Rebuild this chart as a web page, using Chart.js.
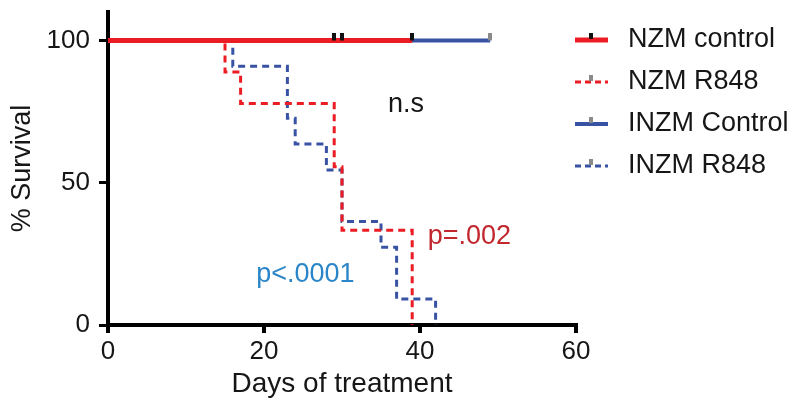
<!DOCTYPE html>
<html>
<head>
<meta charset="utf-8">
<script src="https://cdn.jsdelivr.net/npm/chart.js@4.4.1/dist/chart.umd.min.js"></script>
<style>
    html, body { margin: 0; padding: 0; background: #fff; }
    #wrap { width: 800px; height: 415px; position: relative; }
</style>
</head>
<body>
<div id="wrap"><canvas id="chart"></canvas></div>
<script>
// --- data ---
const xTicks = [0, 20, 40, 60];
const yTicks = [0, 50, 100];

const nzmControlDays = [0, 39];
const nzmControlSurvival = [100, 100];
const nzmControlCensored = [29, 30, 39];

const inzmControlDays = [0, 49];
const inzmControlSurvival = [100, 100];
const inzmControlCensored = [49];

const nzmR848Days = [0, 15, 17, 29, 30, 39];
const nzmR848Survival = [100, 88.9, 77.8, 55.6, 33.3, 0];

const inzmR848Days = [0, 16, 23, 24, 28, 30, 35, 37, 42];
const inzmR848Survival = [100, 90.9, 72.7, 63.6, 54.5, 36.4, 27.3, 9.1, 0];

const seriesLabels = ['NZM control', 'NZM R848', 'INZM Control', 'INZM R848'];

const noteTexts = ['n.s', 'p=.002', 'p<.0001'];
const noteDays = [38.2, 41, 19];
const notePct = [77.5, 31.2, 17.9];

// --- styling ---
const FONT = "'Liberation Sans', Arial, Helvetica, sans-serif";
const TEXT = '#161616';
const RED = '#ec1c24';
const BLUE = '#3953a4';
const MARK_DARK = '#111111';
const MARK_GREY = '#8a8a8a';
const NOTE_STYLE = [
    { color: TEXT, align: 'center' },
    { color: '#c1272d', align: 'left' },
    { color: '#2a86c8', align: 'left' },
];
const LEGEND_STYLE = [
    { color: RED, width: 5, dash: [], mark: MARK_DARK },
    { color: RED, width: 3, dash: [6, 4], mark: MARK_GREY },
    { color: BLUE, width: 4, dash: [], mark: MARK_GREY },
    { color: BLUE, width: 3, dash: [6, 4], mark: MARK_GREY },
];

function points(xs, ys) {
    return xs.map((x, i) => ({ x, y: ys[i] }));
}

function censorMark(color) {
    const c = document.createElement('canvas');
    c.width = 4;
    c.height = 14;
    const ctx = c.getContext('2d');
    ctx.fillStyle = color;
    ctx.fillRect(0, 0, 4, 7);
    return c;
}

function noLabelPadding(scale) {
    scale.paddingTop = 0;
    scale.paddingBottom = 0;
    scale.paddingLeft = 0;
    scale.paddingRight = 0;
}

const notesPlugin = {
    id: 'notes',
    afterDatasetsDraw(chart) {
        const { ctx, scales } = chart;
        ctx.save();
        ctx.font = `27px ${FONT}`;
        ctx.textBaseline = 'middle';
        noteTexts.forEach((text, i) => {
            ctx.fillStyle = NOTE_STYLE[i].color;
            ctx.textAlign = NOTE_STYLE[i].align;
            ctx.fillText(text, scales.x.getPixelForValue(noteDays[i]), scales.y.getPixelForValue(notePct[i]));
        });
        ctx.restore();
    },
};

const legendPlugin = {
    id: 'kmLegend',
    afterDraw(chart) {
        const ctx = chart.ctx;
        const x0 = 575;
        const x1 = 608;
        ctx.save();
        seriesLabels.forEach((label, i) => {
            const style = LEGEND_STYLE[i];
            const y = 40 + i * 42;

            ctx.beginPath();
            ctx.strokeStyle = style.color;
            ctx.lineWidth = style.width;
            ctx.setLineDash(style.dash);
            ctx.moveTo(x0, y);
            ctx.lineTo(x1, y);
            ctx.stroke();
            ctx.setLineDash([]);

            ctx.fillStyle = style.mark;
            ctx.fillRect(589, y - 7, 4, 6);

            ctx.fillStyle = TEXT;
            ctx.font = `27px ${FONT}`;
            ctx.textAlign = 'left';
            ctx.textBaseline = 'middle';
            ctx.fillText(label, 628, y);
        });
        ctx.restore();
    },
};

new Chart(document.getElementById('chart'), {
    type: 'line',
    data: {
        datasets: [
            {
                label: 'NZM control censored',
                data: nzmControlCensored.map((d) => ({ x: d, y: 100 })),
                showLine: false,
                pointStyle: censorMark(MARK_DARK),
                pointRadius: 5,
                order: 0,
            },
            {
                label: 'INZM Control censored',
                data: inzmControlCensored.map((d) => ({ x: d, y: 100 })),
                showLine: false,
                pointStyle: censorMark(MARK_GREY),
                pointRadius: 5,
                order: 0,
            },
            {
                label: seriesLabels[0],
                data: points(nzmControlDays, nzmControlSurvival),
                borderColor: RED,
                borderWidth: 5,
                pointRadius: 0,
                stepped: true,
                order: 1,
            },
            {
                label: seriesLabels[2],
                data: points(inzmControlDays, inzmControlSurvival),
                borderColor: BLUE,
                borderWidth: 4,
                pointRadius: 0,
                stepped: true,
                order: 2,
            },
            {
                label: seriesLabels[1],
                data: points(nzmR848Days, nzmR848Survival),
                borderColor: RED,
                borderWidth: 3,
                borderDash: [7, 5],
                pointRadius: 0,
                stepped: true,
                order: 3,
            },
            {
                label: seriesLabels[3],
                data: points(inzmR848Days, inzmR848Survival),
                borderColor: BLUE,
                borderWidth: 3,
                borderDash: [7, 5],
                pointRadius: 0,
                stepped: true,
                order: 4,
            },
        ],
    },
    options: {
        responsive: true,
        maintainAspectRatio: false,
        animation: false,
        events: [],
        layout: { padding: { top: 12, right: 224, left: 0, bottom: 0 } },
        plugins: {
            legend: { display: false },
            tooltip: { enabled: false },
        },
        scales: {
            x: {
                type: 'linear',
                min: 0,
                max: 60,
                afterBuildTicks: (s) => { s.ticks = xTicks.map((v) => ({ value: v })); },
                afterFit: (s) => { s.height = 90; noLabelPadding(s); },
                border: { display: true, color: '#000', width: 4 },
                grid: { display: true, drawOnChartArea: false, drawTicks: true, tickLength: 8, lineWidth: 4, color: '#000' },
                ticks: { color: TEXT, font: { size: 26, family: FONT }, padding: 3, maxRotation: 0 },
                title: {
                    display: true,
                    text: 'Days of treatment',
                    color: TEXT,
                    font: { size: 28, family: FONT },
                    padding: { top: 0, bottom: 14 },
                },
            },
            y: {
                type: 'linear',
                min: 0,
                max: 110,
                afterBuildTicks: (s) => { s.ticks = yTicks.map((v) => ({ value: v })); },
                afterFit: (s) => { s.width = 108; noLabelPadding(s); },
                border: { display: true, color: '#000', width: 4 },
                grid: { display: true, drawOnChartArea: false, drawTicks: true, tickLength: 9, lineWidth: 3, color: '#000' },
                ticks: { color: TEXT, font: { size: 26, family: FONT }, padding: 9 },
                title: {
                    display: true,
                    text: '% Survival',
                    color: TEXT,
                    font: { size: 27, family: FONT },
                    padding: { top: 6, bottom: 0 },
                },
            },
        },
    },
    plugins: [notesPlugin, legendPlugin],
});
</script>
</body>
</html>
